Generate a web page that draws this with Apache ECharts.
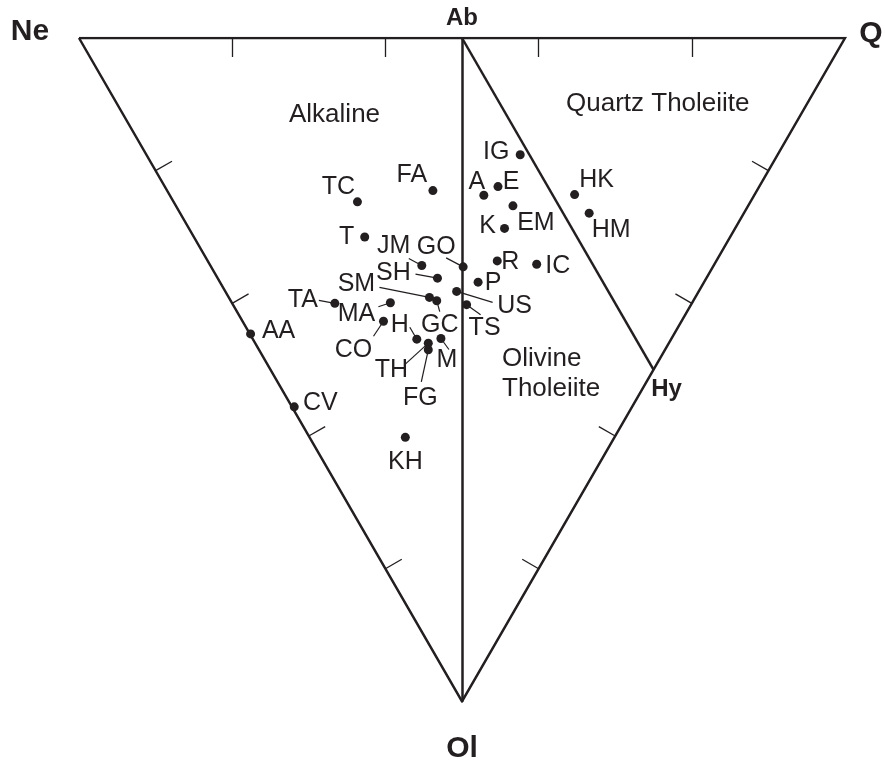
<!DOCTYPE html>
<html>
<head>
<meta charset="utf-8">
<title>Ne-Ol-Q</title>
<script src="https://cdn.jsdelivr.net/npm/echarts@6/dist/echarts.min.js"></script>
<style>
  html, body { margin: 0; background: #fff; }
  #main { width: 885px; height: 767px; }
</style>
</head>
<body>
<div id="main"></div>
<script>
// normative compositions (%)
const samples = ['FA', 'TC', 'T', 'JM', 'GO', 'SH', 'SM', 'GC', 'US', 'P', 'TS', 'TA', 'MA', 'CO', 'H',
  'M', 'TH', 'FG', 'AA', 'CV', 'KH', 'IG', 'A', 'E', 'EM', 'K', 'R', 'IC', 'HK', 'HM'];
const ne = [42.3, 51.3, 47.7, 38.1, 32.6, 35.1, 34.7, 33.5, 31.6, 29.5, 29.3, 46.6, 39.4, 38.9, 33.2,
  30.1, 31.4, 30.9, 55.3, 44.1, 27.3, 33.6, 35.3, 34.1, 30.7, 30.1, 28.6, 23.2, 23.5, 20.2];
const q = [34.7, 24.0, 22.3, 27.6, 32.9, 28.7, 26.2, 26.9, 30.2, 33.7, 30.5, 13.4, 20.7, 18.4, 21.4,
  24.6, 22.6, 22.1, 0.1, 0.3, 12.5, 48.8, 41.0, 43.5, 44.0, 41.2, 37.8, 42.7, 52.9, 53.4];
const ol = [23.0, 24.7, 30.0, 34.3, 34.5, 36.2, 39.1, 39.6, 38.2, 36.8, 40.2, 40.0, 39.9, 42.7, 45.4,
  45.3, 46.0, 47.0, 44.6, 55.6, 60.2, 17.6, 23.7, 22.4, 25.3, 28.7, 33.6, 34.1, 23.6, 26.4];

// end members [Ne, Q, Ol]
const vertexNames = ['Ne', 'Q', 'Ol', 'Ab', 'Hy'];
const vertexComp = [[100, 0, 0], [0, 100, 0], [0, 0, 100], [50, 50, 0], [0, 50, 50]];
const tickSteps = [20, 40, 60, 80];

// label offsets (px) and leader line ends (px), relative to each dot
const labelOffset = {
  FA: [-21, -15], TC: [-19, -15], T: [-18, 0], JM: [-28, -19], GO: [-27, -20], SH: [-44, -5],
  SM: [-73, -13], GC: [3, 24], US: [58, 15], P: [15, 1], TS: [18, 23], TA: [-32, -3],
  MA: [-34, 11], CO: [-30, 29], H: [-17, -14], M: [6, 22], TH: [-37, 27], FG: [-8, 48],
  AA: [28, -3], CV: [26, -4], KH: [0, 25], IG: [-24, -3], A: [-7, -13], E: [13, -4],
  EM: [23, 17], K: [-17, -2], R: [13, 1], IC: [21, 2], HK: [22, -14], HM: [22, 17]
};
const leaderEnd = {
  JM: [-13, -7], GO: [-17, -9], SH: [-22, -4], SM: [-50, -10], GC: [3, 11], US: [36, 11],
  TS: [14, 10], TA: [-16, -3], MA: [-12, 4], CO: [-10, 15], H: [-7, -12], M: [8, 11],
  TH: [-23, 21], FG: [-7, 32]
};

const INK = '#231f20';
const FONT = '"Liberation Sans", Arial, sans-serif';
const TICK = 2.85;

// ternary -> cartesian: x runs Ne->Q along the top, y is Ol (downwards)
function toXY(c) { return [c[1] + c[2] / 2, c[2]]; }

const frame = [vertexComp[0], vertexComp[1], vertexComp[2], vertexComp[0]].map(toXY);

const segs = [];
segs.push({ coords: [toXY(vertexComp[3]), toXY(vertexComp[2])], lineStyle: { width: 2.5 } });
segs.push({ coords: [toXY(vertexComp[3]), toXY(vertexComp[4])], lineStyle: { width: 2.5 } });
tickSteps.forEach(t => {
  // tick: raise the opposite component, the other two drop by half
  segs.push({ coords: [toXY([100 - t, t, 0]), toXY([100 - t - TICK / 2, t - TICK / 2, TICK])] });
  segs.push({ coords: [toXY([100 - t, 0, t]), toXY([100 - t - TICK / 2, TICK, t - TICK / 2])] });
  segs.push({ coords: [toXY([0, 100 - t, t]), toXY([TICK, 100 - t - TICK / 2, t - TICK / 2])] });
});

const points = samples.map((s, i) => ({
  name: s,
  value: toXY([ne[i], q[i], ol[i]]),
  label: { offset: labelOffset[s] }
}));

const vertexOffset = { Ne: [-49, -6], Q: [26, -4], Ol: [0, 47], Ab: [0, -20], Hy: [13, 20] };
const vertexSize = { Ne: 30, Q: 30, Ol: 30, Ab: 24, Hy: 24 };
const vertices = vertexNames.map((v, i) => ({
  name: v,
  value: toXY(vertexComp[i]),
  label: { offset: vertexOffset[v], fontSize: vertexSize[v] }
}));

const chart = echarts.init(document.getElementById('main'));
const option = {
  backgroundColor: '#fff',
  animation: false,
  grid: { left: 79, top: 38, width: 766, height: 663.4 },
  xAxis: { type: 'value', min: 0, max: 100, show: false },
  yAxis: { type: 'value', min: 0, max: 100, inverse: true, show: false },
  graphic: [
    { type: 'text', left: 289, top: 102, style: { text: 'Alkaline', font: '26px ' + FONT, fill: INK } },
    { type: 'text', left: 566, top: 91, style: { text: 'Quartz Tholeiite', font: '26px ' + FONT, fill: INK } },
    { type: 'text', left: 502, top: 344, style: { text: 'Olivine\nTholeiite', font: '26px ' + FONT, fill: INK, lineHeight: 30 } }
  ],
  series: [
    {
      type: 'line', data: frame, symbol: 'none', silent: true,
      lineStyle: { color: INK, width: 2.5, join: 'miter' }
    },
    {
      type: 'lines', coordinateSystem: 'cartesian2d', silent: true, data: segs,
      lineStyle: { color: INK, width: 1.3, opacity: 1 }
    },
    {
      type: 'scatter', data: points, symbolSize: 9, silent: true,
      itemStyle: { color: INK, opacity: 1 },
      label: {
        show: true, position: 'inside', formatter: '{b}',
        fontFamily: FONT, fontSize: 25, color: INK, align: 'center', verticalAlign: 'middle'
      },
      z: 5
    },
    {
      type: 'scatter', data: vertices, symbolSize: 0, silent: true,
      itemStyle: { opacity: 1 },
      label: {
        show: true, position: 'inside', formatter: '{b}',
        fontFamily: FONT, fontWeight: 'bold', color: INK, align: 'center', verticalAlign: 'middle'
      }
    }
  ]
};
chart.setOption(option);

// leader lines from the dots to their labels
const leaders = [];
samples.forEach((s, i) => {
  const e = leaderEnd[s];
  if (!e) return;
  const p = chart.convertToPixel({ gridIndex: 0 }, points[i].value);
  leaders.push({
    type: 'line', silent: true, z: 1,
    shape: { x1: p[0], y1: p[1], x2: p[0] + e[0], y2: p[1] + e[1] },
    style: { stroke: INK, lineWidth: 1.2 }
  });
});
chart.setOption({ graphic: option.graphic.concat(leaders) });
</script>
</body>
</html>
